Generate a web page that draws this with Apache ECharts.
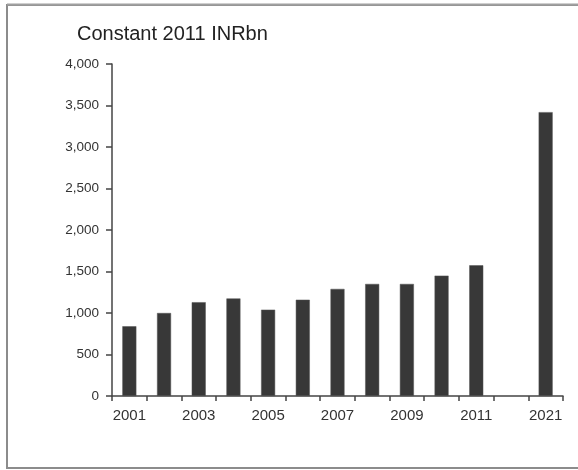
<!DOCTYPE html>
<html>
<head>
<meta charset="utf-8">
<script src="https://cdn.jsdelivr.net/npm/echarts@6/dist/echarts.min.js"></script>
<style>
  html, body { margin: 0; padding: 0; background: #fff; }
  #chart { width: 578px; height: 470px; }
</style>
</head>
<body>
<div id="chart"></div>
<script>
// Years on the category axis; the empty slot leaves a gap before the 2021 projection
const years = ['2001', '2002', '2003', '2004', '2005', '2006', '2007', '2008', '2009', '2010', '2011', '', '2021'];
// Values in constant 2011 INR billions
const values = [840, 1000, 1130, 1175, 1040, 1160, 1290, 1350, 1350, 1450, 1575, '-', 3420];
// Value axis ticks
const yMin = 0;
const yMax = 4000;
const yStep = 500;
const titleText = 'Constant 2011 INRbn';

const FONT = '"Liberation Sans", Arial, sans-serif';
const AXIS_COLOR = '#444';

const chart = echarts.init(document.getElementById('chart'), null, { renderer: 'canvas' });

chart.setOption({
  animation: false,
  backgroundColor: '#fff',
  title: {
    text: titleText,
    left: 72,
    top: 19,
    textStyle: { fontFamily: FONT, fontSize: 20, fontWeight: 'normal', color: '#222' }
  },
  graphic: [
    {
      type: 'rect',
      shape: { x: 7, y: 5, width: 620, height: 463 },
      style: { fill: 'none', stroke: '#8c8c8c', lineWidth: 2 },
      silent: true
    },
    {
      type: 'line',
      shape: { x1: 7, y1: 4.5, x2: 578, y2: 4.5 },
      style: { stroke: '#a0a0a0', lineWidth: 2 },
      silent: true
    }
  ],
  grid: { left: 112, right: 15, top: 64, bottom: 74, containLabel: false },
  xAxis: {
    type: 'category',
    data: years,
    boundaryGap: true,
    axisLine: { lineStyle: { color: AXIS_COLOR, width: 1.5 } },
    axisTick: { show: true, length: 5, interval: 0, lineStyle: { color: AXIS_COLOR, width: 1.5 } },
    axisLabel: {
      interval: 1,
      margin: 12,
      fontFamily: FONT,
      fontSize: 15,
      color: '#333'
    },
    splitLine: { show: false }
  },
  yAxis: {
    type: 'value',
    min: yMin,
    max: yMax,
    interval: yStep,
    axisLine: { show: true, lineStyle: { color: AXIS_COLOR, width: 1.5 } },
    axisTick: { show: true, length: 6, lineStyle: { color: AXIS_COLOR, width: 1.5 } },
    axisLabel: {
      margin: 13,
      fontFamily: FONT,
      fontSize: 13.5,
      color: '#333',
      formatter: v => v.toLocaleString('en-US')
    },
    splitLine: { show: false }
  },
  series: [
    {
      type: 'bar',
      data: values,
      barWidth: 14,
      itemStyle: { color: '#383838', borderColor: '#555', borderWidth: 0.5 }
    }
  ]
});
</script>
</body>
</html>
